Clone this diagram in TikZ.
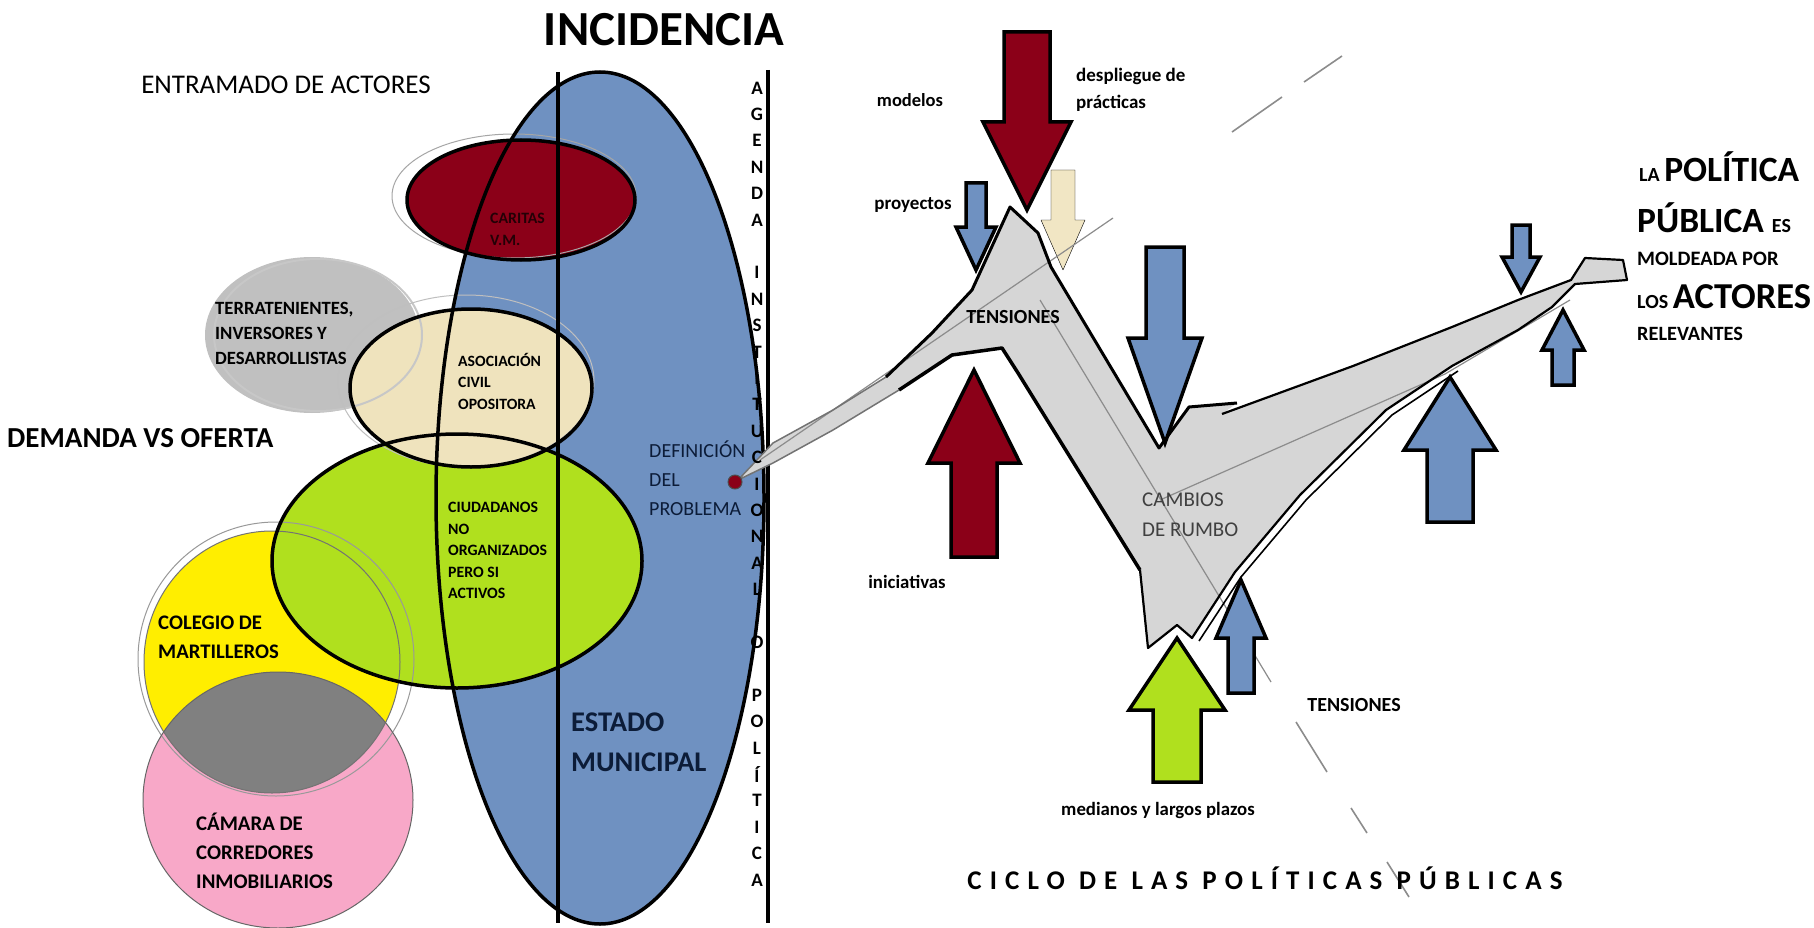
\documentclass[tikz,border=0pt]{standalone}
\usepackage{fontspec}
\setmainfont{Carlito}
\usepackage{tikz}
\usetikzlibrary{calc}
\definecolor{vino}{RGB}{139,0,24}
\definecolor{azulest}{RGB}{111,145,193}
\definecolor{verdelima}{RGB}{176,224,30}
\definecolor{amarillo}{RGB}{255,238,0}
\definecolor{rosa}{RGB}{248,168,200}
\definecolor{beige}{RGB}{239,227,189}
\definecolor{grisclaro}{RGB}{192,192,192}
\definecolor{grislente}{RGB}{128,128,128}
\definecolor{grisestela}{RGB}{214,214,214}
\definecolor{azuloscuro}{RGB}{12,28,56}
\newcommand{\tam}[2]{\fontsize{#1}{#2}\selectfont}
% [estilo]{x}{punta}{base de la cabeza}{cola}{media cabeza}{medio cuerpo}
\newcommand{\flecha}[7][]{%
  \draw[#1] (#2,#3) -- ({#2+#6},#4) -- ({#2+#7},#4) -- ({#2+#7},#5)
    -- ({#2-#7},#5) -- ({#2-#7},#4) -- ({#2-#6},#4) -- cycle;}

\begin{document}
\begin{tikzpicture}[x=1pt, y=-1pt, line join=round,
    borde/.style={draw=black, line width=3.5pt},
    bloque/.style={draw=black, line width=3.5pt, line join=miter},
    aro/.style={draw=#1, line width=1pt},
    trazo/.style={draw=black!45, line width=1.6pt},
    txt/.style={inner sep=0pt, align=left, anchor=north west}]
\useasboundingbox (0,0) rectangle (1814,928);
\fill[white] (0,0) rectangle (1814,928);

% estado municipal
\fill[azulest] (600,498) ellipse [x radius=164, y radius=426];

% entramado de actores
\fill[amarillo] (272,662) ellipse [x radius=128, y radius=131];
\fill[rosa] (278,800) ellipse [x radius=135, y radius=128];
\begin{scope}
  \clip (272,662) ellipse [x radius=128, y radius=131];
  \fill[grislente] (278,800) ellipse [x radius=135, y radius=128];
\end{scope}
\fill[verdelima] (457,561) ellipse [x radius=185, y radius=127];
\fill[grisclaro] (312,335) ellipse [x radius=107, y radius=78];
\fill[beige] (471,388) ellipse [x radius=121, y radius=79];
\fill[vino] (521,200) ellipse [x radius=114, y radius=60];

\draw[aro=black!55] (272,662) ellipse [x radius=128, y radius=131];
\draw[aro=black!40] (276,659) ellipse [x radius=138, y radius=137];
\draw[aro=black!60] (278,800) ellipse [x radius=135, y radius=128];
\draw[draw=black!22, line width=2pt] (318,335) ellipse [x radius=104, y radius=76];
\draw[aro=black!25] (466,381) ellipse [x radius=128, y radius=86];
\draw[borde] (457,561) ellipse [x radius=185, y radius=127];
\draw[borde] (471,388) ellipse [x radius=121, y radius=79];
\draw[aro=black!35] (514,196) ellipse [x radius=122, y radius=62];
\draw[borde] (521,200) ellipse [x radius=114, y radius=60];
\draw[borde] (600,498) ellipse [x radius=164, y radius=426];
\draw[borde] (558,72) -- (558,923);
\draw[borde] (768,70) -- (768,923);

% ciclo de las politicas publicas
\flecha[fill=beige!90!white]{1063}{270}{220}{170}{22}{12}
\fill[grisestela] (738,480) -- (773,443) -- (833,410) -- (886,377) -- (932,333)
  -- (972,290) -- (1010,207) -- (1038,233) -- (1051,267) -- (1159,448)
  -- (1189,407) -- (1237,403) -- (1222,414) -- (1353,366) -- (1452,327)
  -- (1518,300) -- (1571,280) -- (1585,258) -- (1623,260) -- (1627,280)
  -- (1575,284) -- (1552,307) -- (1518,330) -- (1452,366) -- (1386,410)
  -- (1300,495) -- (1235,572) -- (1192,638) -- (1177,625) -- (1148,648)
  -- (1140,570) -- (1018,373) -- (1002,348) -- (952,355) -- (899,390)
  -- (833,430) -- (773,463) -- cycle;
\draw[trazo, line width=1.2pt] (1113,218) -- (760,460);
\draw[trazo, line width=1.2pt] (1040,300) -- (1271,682);
\draw[trazo, line width=1.2pt] (1160,500) -- (1445,374) -- (1570,300);
\draw[trazo] (1232,132) -- (1282,97);
\draw[trazo] (1304,82) -- (1342,56);
\draw[trazo] (1296,722) -- (1327,772);
\draw[trazo] (1351,808) -- (1367,833);
\draw[trazo] (1387,862) -- (1409,897);
\draw[black!55, line width=1.5pt] (886,377) -- (833,410) -- (773,443) -- (738,480)
  -- (773,463) -- (833,430) -- (899,390);
\draw[black, line width=3pt] (886,377) -- (932,333) -- (972,290) -- (1010,207)
  -- (1038,233) -- (1051,267) -- (1159,448) -- (1189,407) -- (1237,403);
\draw[black, line width=2.2pt] (1222,414) -- (1353,366) -- (1452,327) -- (1518,300)
  -- (1571,280) -- (1585,258) -- (1623,260) -- (1627,280) -- (1575,284)
  -- (1552,307) -- (1518,330) -- (1452,366) -- (1386,410) -- (1300,495)
  -- (1235,572) -- (1192,638) -- (1177,625) -- (1148,648) -- (1140,570);
\draw[black, line width=1.6pt] (1458,371) -- (1392,415) -- (1306,500) -- (1241,577) -- (1199,641);
\draw[black, line width=3.5pt] (1140,570) -- (1018,373) -- (1002,348) -- (952,355) -- (899,390);
\node[circle, fill=vino, draw=black!70, line width=1pt, minimum size=14pt, inner sep=0pt] (punto) at (735,482) {};

\flecha[bloque, fill=vino]{1027}{210}{122}{32}{44}{23}
\flecha[bloque, fill=azulest]{976}{270}{227}{183}{20}{10}
\flecha[bloque, fill=azulest]{1165}{443}{338}{247}{37}{19}
\flecha[bloque, fill=vino]{974}{370}{463}{557}{46}{23}
\flecha[bloque, fill=verdelima]{1177}{638}{710}{782}{48}{24}
\flecha[bloque, fill=azulest]{1241}{580}{638}{693}{25}{13}
\flecha[bloque, fill=azulest]{1450}{377}{450}{522}{46}{23}
\flecha[bloque, fill=azulest]{1521}{292}{257}{225}{19}{9}
\flecha[bloque, fill=azulest]{1563}{310}{350}{385}{21}{11}

% textos
\node[font=\tam{49}{49}\bfseries] (incidencia) at (664,30) {INCIDENCIA};
\node[font=\tam{27}{27}] (entramado) at (286,85) {ENTRAMADO DE ACTORES};
\node[anchor=west, inner sep=0pt, font=\tam{29}{29}\bfseries] (demanda) at (7,438) {DEMANDA VS OFERTA};
\node[txt, text=black!75!vino, font=\tam{15.8}{22}\bfseries] (caritas) at (490,213) {CARITAS\\V.M.};
\node[txt, font=\tam{18.7}{25}\bfseries] (terratenientes) at (215,302) {TERRATENIENTES,\\INVERSORES Y\\DESARROLLISTAS};
\node[txt, font=\tam{15.7}{21.5}\bfseries] (asociacion) at (458,353) {ASOCIACIÓN\\CIVIL\\OPOSITORA};
\node[txt, font=\tam{15.8}{21.5}\bfseries] (ciudadanos) at (448,502) {CIUDADANOS\\NO\\ORGANIZADOS\\PERO SI\\ACTIVOS};
\node[txt, font=\tam{20.7}{29}\bfseries] (colegio) at (158,616) {COLEGIO DE\\MARTILLEROS};
\node[txt, font=\tam{20.8}{29}\bfseries] (camara) at (196,813) {CÁMARA DE\\CORREDORES\\INMOBILIARIOS};
\node[txt, text=azuloscuro, font=\tam{20}{29}] (definicion) at (649,441) {DEFINICIÓN\\DEL\\PROBLEMA};
\node[txt, text=azuloscuro, font=\tam{28.5}{40}\bfseries] (estado) at (571,713) {ESTADO\\MUNICIPAL};
\foreach \letra [count=\i from 0] in {A,G,E,N,D,A,{},I,N,S,T,I,T,U,C,I,O,N,A,L,{},O,{},P,O,L,Í,T,I,C,A}
  \node[font=\tam{19}{19}\bfseries] (agenda\i) at (757,{88+\i*26.4}) {\letra};

\node[font=\tam{18.5}{18.5}\bfseries] (modelos) at (910,100) {modelos};
\node[txt, font=\tam{19}{27}\bfseries] (despliegue) at (1076,68) {despliegue de\\prácticas};
\node[font=\tam{19}{19}\bfseries] (proyectos) at (913,205) {proyectos};
\node[font=\tam{20}{20}\bfseries] (tensiones) at (1013,317) {TENSIONES};
\node[font=\tam{18.8}{18.8}\bfseries] (iniciativas) at (907,582) {iniciativas};
\node[txt, text=black!75, font=\tam{21}{30}] (cambios) at (1142,493) {CAMBIOS\\DE RUMBO};
\node[font=\tam{20}{20}\bfseries] (tensiones2) at (1354,705) {TENSIONES};
\node[font=\tam{18.8}{18.8}\bfseries] (plazos) at (1158,810) {medianos y largos plazos};
\node[font=\tam{27}{27}\bfseries\addfontfeature{LetterSpace=30}] (ciclo) at (1265,878) {CICLO DE LAS POLÍTICAS PÚBLICAS};

\node[anchor=base west, inner sep=0pt, font=\bfseries] (lapolitica) at (1639,182) {\tam{20}{20}LA \tam{35.5}{35.5}POLÍTICA};
\node[anchor=base west, inner sep=0pt, font=\bfseries] (publica) at (1637,232) {\tam{35.5}{35.5}PÚBLICA \tam{20}{20}ES};
\node[anchor=base west, inner sep=0pt, font=\tam{20.5}{20.5}\bfseries] (moldeada) at (1637,265) {MOLDEADA POR};
\node[anchor=base west, inner sep=0pt, font=\bfseries] (actores) at (1637,308) {\tam{20}{20}LOS \tam{36.5}{36.5}ACTORES};
\node[anchor=base west, inner sep=0pt, font=\tam{20.3}{20.3}\bfseries] (relevantes) at (1637,340) {RELEVANTES};
\end{tikzpicture}
\end{document}
